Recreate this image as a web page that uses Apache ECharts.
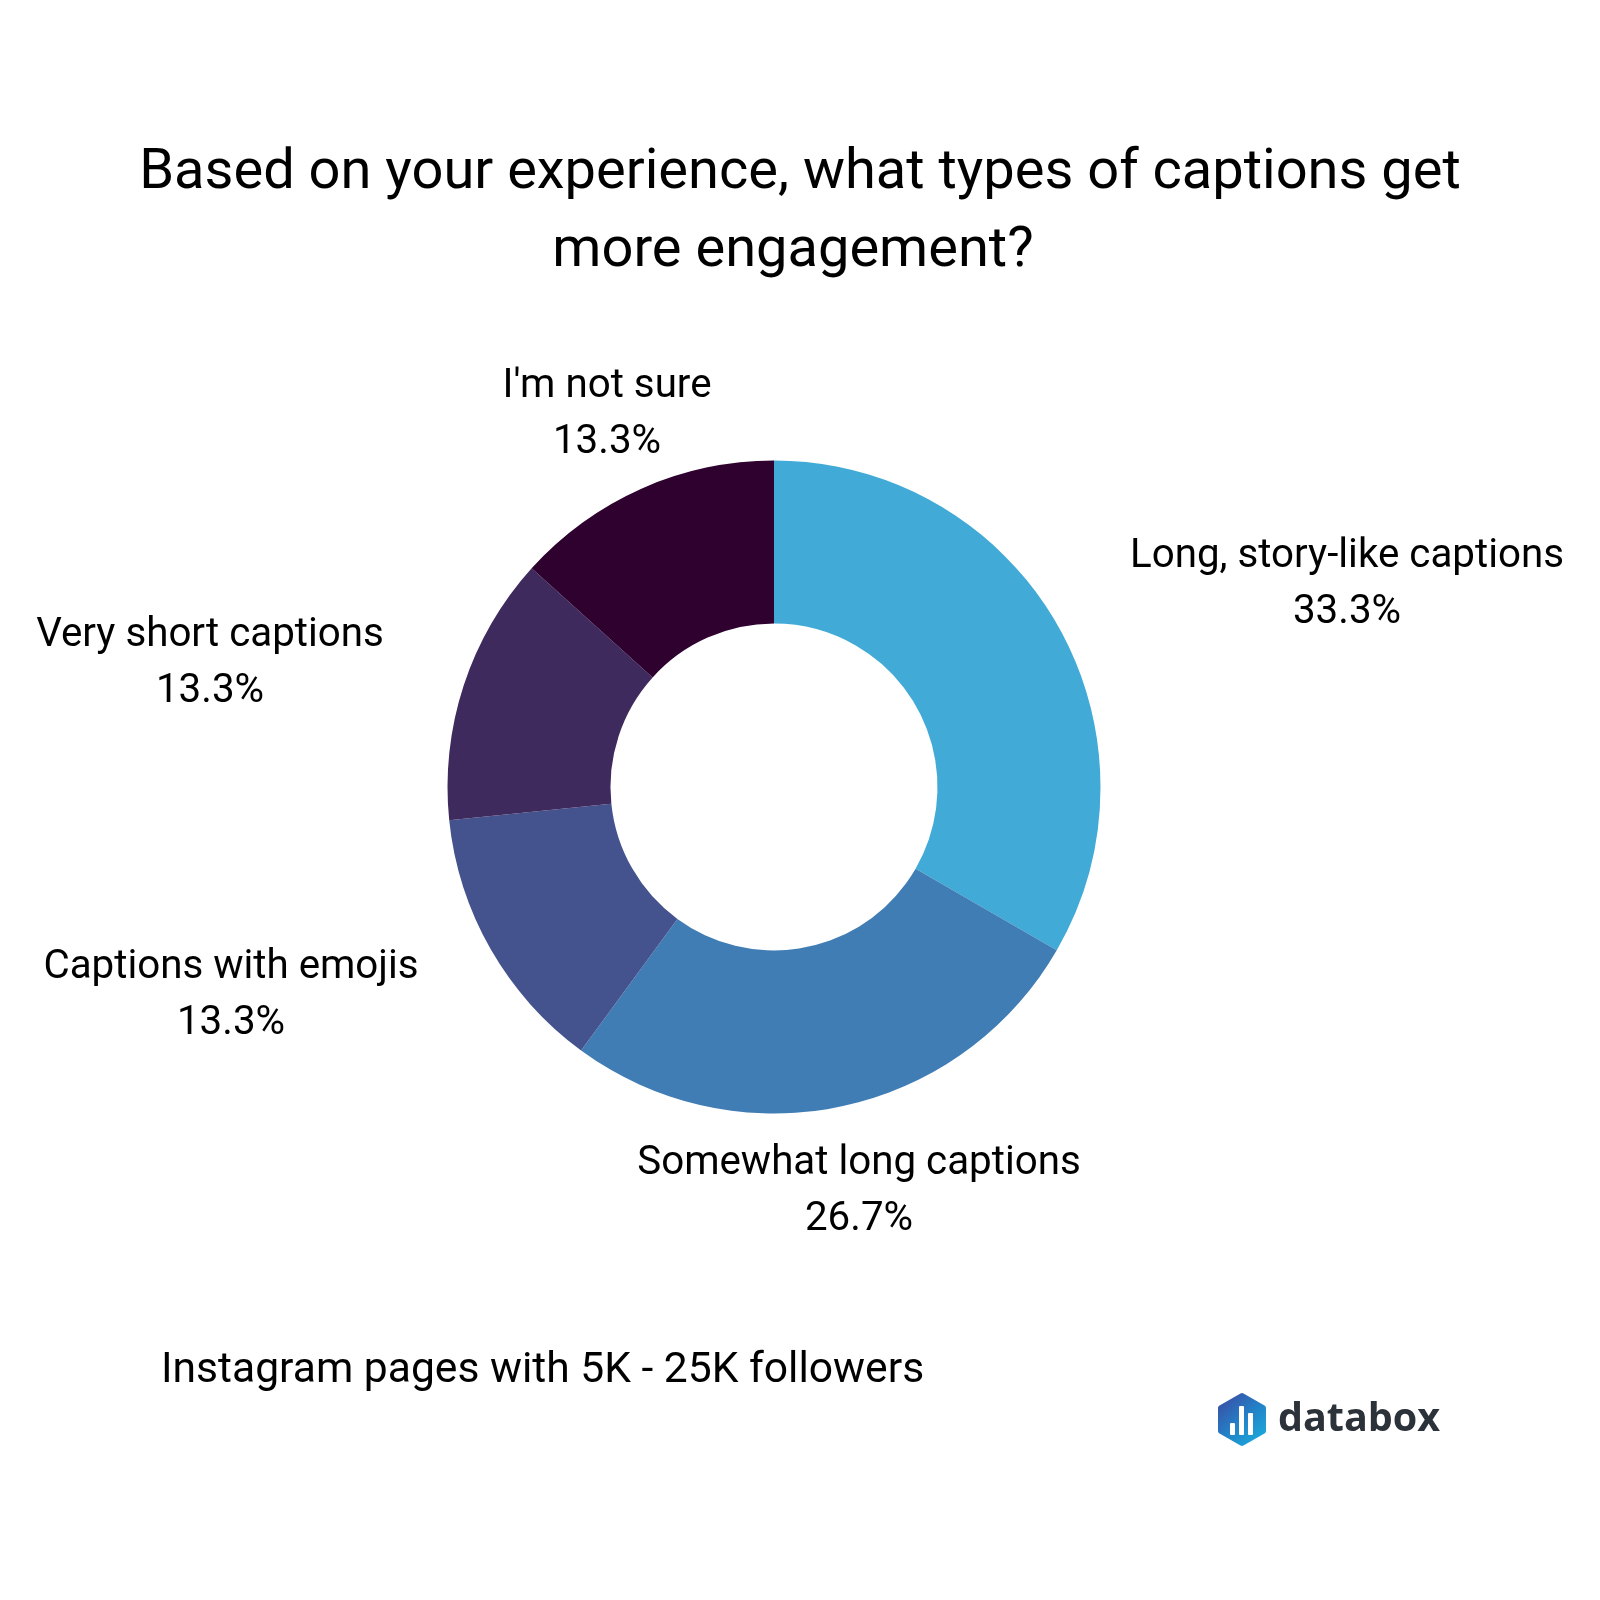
<!DOCTYPE html>
<html>
<head>
<meta charset="utf-8">
<title>Instagram captions</title>
<script src="https://cdn.jsdelivr.net/npm/echarts@6/dist/echarts.min.js"></script>
<style>
  html, body { margin: 0; padding: 0; background: #fff; }
  #main { width: 1600px; height: 1600px; }
</style>
</head>
<body>
<div id="main"></div>
<script>
const categories = ["Long, story-like captions", "Somewhat long captions", "Captions with emojis", "Very short captions", "I'm not sure"];
const values = [33.3, 26.7, 13.3, 13.3, 13.3];
const colors = ["#41AAD6", "#407DB5", "#44538D", "#3F2A5E", "#2E012F"];
// label centres, pie labels are placed by hand like in the original
const labelPos = [[1347, 585], [859, 1192], [231, 996], [210, 664], [607, 415]];

const titleLine1 = "Based on your experience, what types of captions get";
const titleLine2 = "more engagement?";
const subtitleText = "Instagram pages with 5K - 25K followers";
const font = "Roboto";

var myChart = echarts.init(document.getElementById("main"), null, { renderer: "canvas" });

const logoFill = new echarts.graphic.LinearGradient(0, 0, 1, 1, [
  { offset: 0, color: "#3F44A0" },
  { offset: 0.5, color: "#2380C6" },
  { offset: 1, color: "#17B4E0" },
]);
const titleStyle = { fontFamily: font, fontSize: 56, fontWeight: 400, color: "#000", lineHeight: 78 };

var option = {
  backgroundColor: "#fff",
  animation: false,
  title: [
    { text: titleLine1, left: 795, top: 130, textAlign: "center", textStyle: titleStyle },
    { text: titleLine2, left: 788, top: 208, textAlign: "center", textStyle: titleStyle },
    {
      text: subtitleText,
      left: 156,
      top: 1345,
      textStyle: { fontFamily: font, fontSize: 42.6, fontWeight: 400, color: "#000" },
    },
  ],
  series: [
    {
      type: "pie",
      center: [774, 787],
      radius: [163.5, 326.5],
      startAngle: 90,
      clockwise: true,
      avoidLabelOverlap: false,
      data: categories.map((name, i) => ({
        name: name,
        value: values[i],
        itemStyle: { color: colors[i] },
      })),
      label: {
        show: true,
        position: "outside",
        formatter: "{b}\n{c}%",
        fontFamily: font,
        fontSize: 40.3,
        color: "#000",
        lineHeight: 56,
        align: "center",
        verticalAlign: "middle",
      },
      labelLine: { show: false },
      labelLayout: (params) => ({
        x: labelPos[params.dataIndex][0],
        y: labelPos[params.dataIndex][1],
        align: "center",
        verticalAlign: "middle",
      }),
    },
  ],
  graphic: [
    {
      type: "polygon",
      shape: {
        points: [[1242, 1396], [1263, 1408], [1263, 1431], [1242, 1443], [1221, 1431], [1221, 1408]],
      },
      style: { fill: logoFill, stroke: logoFill, lineWidth: 6, lineJoin: "round" },
    },
    { type: "rect", shape: { x: 1230, y: 1423, width: 5, height: 12, r: 1 }, style: { fill: "#fff" } },
    { type: "rect", shape: { x: 1239, y: 1406, width: 5, height: 29, r: 1 }, style: { fill: "#fff" } },
    { type: "rect", shape: { x: 1248, y: 1413, width: 5, height: 22, r: 1 }, style: { fill: "#fff" } },
    {
      type: "text",
      left: 1278,
      top: 1400,
      style: {
        text: "databox",
        fontFamily: "Open Sans",
        fontSize: 39.5,
        fontWeight: 700,
        fill: "#2C3239",
      },
    },
  ],
};

option && myChart.setOption(option);
</script>
</body>
</html>
